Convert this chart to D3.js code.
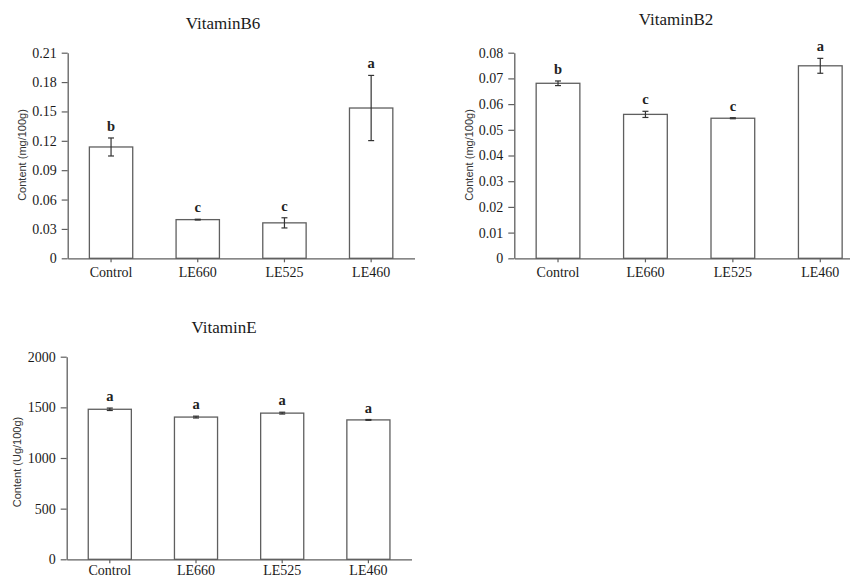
<!DOCTYPE html>
<html>
<head>
<meta charset="utf-8">
<script src="https://cdn.jsdelivr.net/npm/d3@7"></script>
<style>
  html, body { margin: 0; padding: 0; background: #fff; }
  svg { display: block; }
  .tick text { font-family: "Liberation Serif", "Times New Roman", serif; font-size: 14px; fill: #1a1a1a; }
</style>
</head>
<body>
<svg id="chart" width="850" height="577"></svg>
<script>
// Treatments shared by all three panels
const categories = ["Control", "LE660", "LE525", "LE460"];

// Vitamin B6 (mg/100g)
const b6Means   = [0.1137, 0.0395, 0.0362, 0.1535];
const b6Errors  = [0.0092, 0.0004, 0.0052, 0.0333];
const b6Letters = ["b", "c", "c", "a"];
const b6Ticks   = [0, 0.03, 0.06, 0.09, 0.12, 0.15, 0.18, 0.21];

// Vitamin B2 (mg/100g)
const b2Means   = [0.0681, 0.0560, 0.0545, 0.0749];
const b2Errors  = [0.0009, 0.0012, 0.0002, 0.0029];
const b2Letters = ["b", "c", "c", "a"];
const b2Ticks   = [0, 0.01, 0.02, 0.03, 0.04, 0.05, 0.06, 0.07, 0.08];

// Vitamin E (Ug/100g)
const eMeans    = [1481, 1404, 1443, 1376];
const eErrors   = [12, 9, 9, 4];
const eLetters  = ["a", "a", "a", "a"];
const eTicks    = [0, 500, 1000, 1500, 2000];

const svg = d3.select("#chart");
const stroke = "#5f5f5f";

// Panel placement on the page
const panels = [
  { title: "VitaminB6", ylab: "Content (mg/100g)", means: b6Means, errs: b6Errors, letters: b6Letters, ticks: b6Ticks,
    fmt: d => d === 0 ? "0" : d.toFixed(2),
    x0: 67.7, x1: 414.5, yTop: 52.7, yBot: 258.3, xlabOff: 18.5,
    titleX: 223, titleY: 29, ylabX: 21.7, ylabY: 155 },
  { title: "VitaminB2", ylab: "Content (mg/100g)", means: b2Means, errs: b2Errors, letters: b2Letters, ticks: b2Ticks,
    fmt: d => d === 0 ? "0" : d.toFixed(2),
    x0: 514.3, x1: 864, yTop: 52.7, yBot: 258.3, xlabOff: 18.5,
    titleX: 676, titleY: 25, ylabX: 469, ylabY: 155 },
  { title: "VitaminE", ylab: "Content (Ug/100g)", means: eMeans, errs: eErrors, letters: eLetters, ticks: eTicks,
    fmt: d => String(d),
    x0: 66.7, x1: 411.5, yTop: 356.7, yBot: 559.3, xlabOff: 15.5,
    titleX: 224, titleY: 333, ylabX: 16.7, ylabY: 462 }
];

panels.forEach(p => {
  const g = svg.append("g");
  const x = d3.scaleBand().domain(categories).range([p.x0, p.x1]).paddingInner(0.5).paddingOuter(0.25);
  const y = d3.scaleLinear().domain([0, p.ticks[p.ticks.length - 1]]).range([p.yBot, p.yTop]);

  const rows = categories.map((c, i) => ({ c, m: p.means[i], e: p.errs[i], l: p.letters[i] }));
  const cx = d => x(d.c) + x.bandwidth() / 2;

  // bars
  g.selectAll("rect.bar").data(rows).join("rect")
    .attr("class", "bar")
    .attr("x", d => x(d.c))
    .attr("width", x.bandwidth())
    .attr("y", d => y(d.m))
    .attr("height", d => y(0) - y(d.m))
    .attr("fill", "#fff")
    .attr("stroke", stroke)
    .attr("stroke-width", 1.3);

  // error bars
  const eb = g.selectAll("g.err").data(rows).join("g").attr("class", "err")
    .attr("stroke", "#333").attr("stroke-width", 1.2);
  eb.append("line")
    .attr("x1", cx).attr("x2", cx)
    .attr("y1", d => y(d.m - d.e)).attr("y2", d => y(d.m + d.e));
  eb.append("line")
    .attr("x1", d => cx(d) - 3).attr("x2", d => cx(d) + 3)
    .attr("y1", d => y(d.m + d.e)).attr("y2", d => y(d.m + d.e));
  eb.append("line")
    .attr("x1", d => cx(d) - 3).attr("x2", d => cx(d) + 3)
    .attr("y1", d => y(d.m - d.e)).attr("y2", d => y(d.m - d.e));

  // significance letters
  g.selectAll("text.sig").data(rows).join("text")
    .attr("class", "sig")
    .attr("x", cx)
    .attr("y", d => y(d.m + d.e) - 7)
    .attr("text-anchor", "middle")
    .attr("font-family", "Liberation Serif, Times New Roman, serif")
    .attr("font-size", 14.5)
    .attr("font-weight", "bold")
    .attr("fill", "#222")
    .text(d => d.l);

  // axes
  const yAxis = g.append("g").attr("transform", `translate(${p.x0},0)`)
    .call(d3.axisLeft(y).tickValues(p.ticks).tickFormat(p.fmt).tickSize(6).tickPadding(5).tickSizeOuter(0));
  const xAxis = g.append("g").attr("transform", `translate(0,${p.yBot})`)
    .call(d3.axisBottom(x).tickSize(4).tickSizeOuter(0));
  [yAxis, xAxis].forEach(a => {
    a.select(".domain").attr("stroke", stroke).attr("stroke-width", 1.3);
    a.selectAll(".tick line").attr("stroke", stroke).attr("stroke-width", 1.2);
  });
  xAxis.selectAll(".tick text").attr("y", p.xlabOff).attr("dy", 0);

  // title
  g.append("text")
    .attr("x", p.titleX).attr("y", p.titleY)
    .attr("text-anchor", "middle")
    .attr("font-family", "Liberation Serif, Times New Roman, serif")
    .attr("font-size", 17)
    .attr("fill", "#1a1a1a")
    .text(p.title);

  // y-axis label
  g.append("text")
    .attr("transform", `translate(${p.ylabX},${p.ylabY}) rotate(-90)`)
    .attr("text-anchor", "middle")
    .attr("dy", "0.35em")
    .attr("font-family", "Liberation Sans, Arial, sans-serif")
    .attr("font-size", 11)
    .attr("fill", "#333")
    .text(p.ylab);
});
</script>
</body>
</html>
